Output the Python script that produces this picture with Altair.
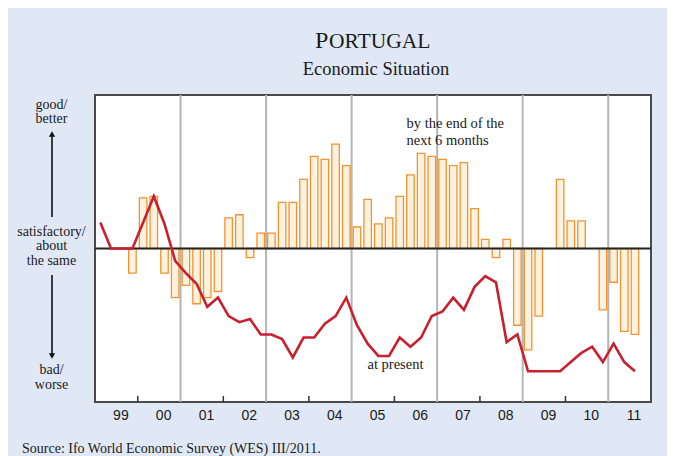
import altair as alt
import pandas as pd

# ---- data -------------------------------------------------------------
years = list(range(1999, 2012))
quarters = [1, 2, 3, 4]

# Economic situation "at present" (line), index scale -100 (bad) .. 100 (good)
present = [17, 0, 0, 0, 17, 34, 16, -8,
           -16, -23, -38, -32, -44, -48, -46, -56,
           -56, -59, -71, -58, -58, -49, -44, -32,
           -50, -62, -70, -70, -58, -64, -58, -44,
           -41, -32, -40, -25, -18, -22, -61, -56,
           -80, -80, -80, -80, -74, -68, -64, -74,
           -62, -74, -80, None]

# Expectations "by the end of the next 6 months" (bars)
expect = [0, 0, 0, -16, 33, 34, -16, -32,
          -24, -36, -32, -28, 20, 22, -6, 10,
          10, 30, 30, 45, 60, 58, 68, 54,
          14, 32, 16, 20, 34, 48, 62, 60,
          58, 54, 56, 26, 6, -6, 6, -50,
          -66, -44, 0, 45, 18, 18, 0, -40,
          -22, -54, -56, None]

tick_years = [2000, 2002, 2004, 2006, 2008, 2010]
divider_years = [2001, 2003, 2005, 2007, 2009, 2011]
label_years = years
zero_level = [0]

# ---- tables -----------------------------------------------------------
rows = []
k = 0
for y in years:
    for q in quarters:
        rows.append({"t": y + (q - 0.5) / 4, "present": present[k], "expect": expect[k]})
        k += 1
df_bars = pd.DataFrame([{"t": r["t"], "expect": r["expect"]} for r in rows
                        if r["expect"] is not None and r["expect"] != 0])
df_line = pd.DataFrame([{"t": r["t"], "present": r["present"]} for r in rows
                        if r["present"] is not None])
df_div = pd.DataFrame({"t": divider_years})
df_tick = pd.DataFrame({"t": tick_years})
df_zero = pd.DataFrame({"v": zero_level})
one = pd.DataFrame({"k": [0]})

SERIF = "Liberation Serif"
SANS = "Liberation Sans"

xscale = alt.Scale(domain=[1999, 2012], nice=False, zero=False, padding=0)
yscale = alt.Scale(domain=[-100, 100], nice=False, zero=False, padding=0)

xaxis = alt.Axis(
    values=[y + 0.5 for y in label_years],
    labelExpr="substring(format(floor(datum.value), 'd'), 2)",
    ticks=False, domain=False, grid=False, title=None,
    labelFont=SANS, labelFontSize=14, labelColor="#1a1a1a",
    labelPadding=6, labelOffset=4,
)

dividers = alt.Chart(df_div).mark_rule(color="#b5b5b5", strokeWidth=2).encode(
    x=alt.X("t:Q", scale=xscale, axis=xaxis),
    y=alt.value(0), y2=alt.value(307),
)

ticks = alt.Chart(df_tick).mark_rule(color="#333333", strokeWidth=1.5).encode(
    x=alt.X("t:Q", scale=xscale),
    y=alt.value(307), y2=alt.value(301),
)

bars = alt.Chart(df_bars).mark_bar(
    size=7.5, fill="#fbf3df", stroke="#f5922f", strokeWidth=1.3
).encode(
    x=alt.X("t:Q", scale=xscale),
    y=alt.Y("expect:Q", scale=yscale, axis=None),
)

zero = alt.Chart(df_zero).mark_rule(color="#222222", strokeWidth=2).encode(
    y=alt.Y("v:Q", scale=yscale, axis=None),
    x=alt.value(0), x2=alt.value(556),
)

line = alt.Chart(df_line).mark_line(color="#c8202f", strokeWidth=2.6).encode(
    x=alt.X("t:Q", scale=xscale),
    y=alt.Y("present:Q", scale=yscale, axis=None),
)


def txt(text, x, y, size=14, align="center", font=SERIF, baseline="middle", color="#1a1a1a"):
    return alt.Chart(one).mark_text(
        text=text, font=font, fontSize=size, align=align, baseline=baseline, color=color
    ).encode(x=alt.value(x), y=alt.value(y))


texts = [
    txt("P", 220, -47, size=24, align="left", baseline="alphabetic"),
    txt("ORTUGAL", 234, -47, size=21.5, align="left", baseline="alphabetic"),
    txt("Economic Situation", 281, -20.5, size=18.5, baseline="alphabetic"),
    txt("good/", -43.5, 10),
    txt("better", -43.5, 24),
    txt("satisfactory/", -43.5, 136.5),
    txt("about", -43.5, 151),
    txt("the same", -43.5, 165.5),
    txt("bad/", -43.5, 274.5),
    txt("worse", -43.5, 289.5),
    txt("by the end of the", 311.5, 29, size=14.5, align="left"),
    txt("next 6 months", 311.5, 46, size=14.5, align="left"),
    txt("at present", 300.5, 270, size=14.5),
    txt("Source: Ifo World Economic Survey (WES) III/2011.", -73, 357.5, size=14,
        align="left", baseline="alphabetic"),
]

arrow_up = alt.Chart(one).mark_rule(color="#111111", strokeWidth=1.6).encode(
    x=alt.value(-43), y=alt.value(40), y2=alt.value(122))
head_up = alt.Chart(one).mark_point(shape="triangle-up", filled=True, size=40,
                                    color="#111111", opacity=1).encode(
    x=alt.value(-43), y=alt.value(39))
arrow_down = alt.Chart(one).mark_rule(color="#111111", strokeWidth=1.6).encode(
    x=alt.value(-43), y=alt.value(180), y2=alt.value(260))
head_down = alt.Chart(one).mark_point(shape="triangle-down", filled=True, size=40,
                                      color="#111111", opacity=1).encode(
    x=alt.value(-43), y=alt.value(261))

chart = alt.layer(
    dividers, ticks, bars, zero, line, arrow_up, head_up, arrow_down, head_down, *texts
).properties(
    width=556, height=307,
    autosize=alt.AutoSizeParams(type="none"),
    padding={"left": 87, "top": 87, "right": 16, "bottom": 54},
).configure(
    background="#e0e8f5",
).configure_view(
    fill="white", stroke="#4a4a4a", strokeWidth=2,
)

chart.save("out.html", embed_options={"renderer": "svg", "actions": False})
